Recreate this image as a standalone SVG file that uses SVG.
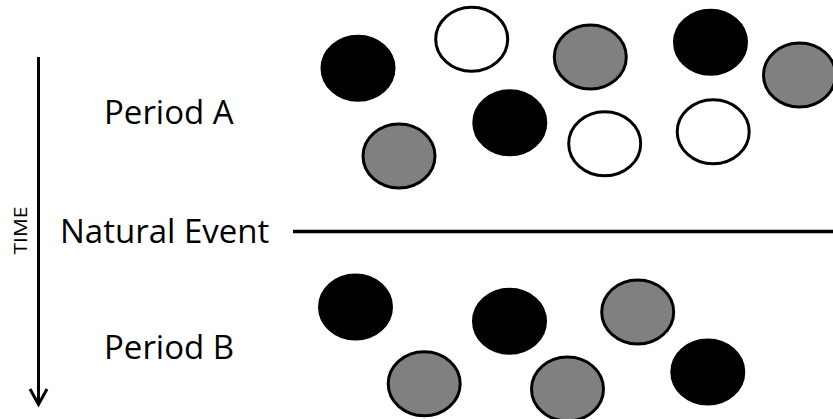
<svg xmlns="http://www.w3.org/2000/svg" width="833" height="419" viewBox="0 0 833 419">
  <style>
    .label { font-family: "Open Sans", "Liberation Sans", sans-serif; font-size: 33px; fill: #000; }
    .small { font-family: "Open Sans", "Liberation Sans", sans-serif; font-size: 18px; fill: #000; }
    .dot { stroke: #000; stroke-width: 3; }
    .black { fill: #000; }
    .gray { fill: #808080; }
    .white { fill: #fff; }
    .rule { stroke: #000; fill: none; }
  </style>
  <rect width="833" height="419" fill="#fff"/>

  <!-- time axis -->
  <g id="time-axis">
    <line class="rule" x1="38.5" y1="57" x2="38.5" y2="403" stroke-width="3"/>
    <polyline class="rule" points="30,389 38.5,404.5 47,389" stroke-width="3" stroke-linejoin="miter"/>
    <text class="small" transform="translate(27,230.5) rotate(-90)" text-anchor="middle" textLength="48" lengthAdjust="spacingAndGlyphs">TIME</text>
  </g>

  <!-- labels -->
  <g id="period-a-label"><text class="label" x="104" y="123.5">Period A</text></g>
  <g id="event-label"><text class="label" x="60" y="243">Natural Event</text></g>
  <g id="period-b-label"><text class="label" x="104" y="358.5">Period B</text></g>

  <!-- event divider -->
  <g id="connectors">
    <line class="rule" x1="293" y1="231.5" x2="833" y2="231.5" stroke-width="3.5"/>
  </g>

  <!-- period A population -->
  <g id="period-a">
    <ellipse id="a1" class="dot black" cx="358" cy="68.3" rx="36" ry="32"/>
    <ellipse id="a2" class="dot white" cx="471.7" cy="39.3" rx="36" ry="32"/>
    <ellipse id="a3" class="dot gray" cx="590.3" cy="57" rx="36" ry="32"/>
    <ellipse id="a4" class="dot black" cx="710.5" cy="42.2" rx="36" ry="32"/>
    <ellipse id="a5" class="dot gray" cx="799.5" cy="75" rx="36" ry="32"/>
    <ellipse id="a6" class="dot black" cx="509.8" cy="122.7" rx="36" ry="32"/>
    <ellipse id="a7" class="dot gray" cx="399" cy="156" rx="36" ry="32"/>
    <ellipse id="a8" class="dot white" cx="604.7" cy="143.7" rx="36" ry="32"/>
    <ellipse id="a9" class="dot white" cx="713.2" cy="131.7" rx="36" ry="32"/>
  </g>

  <!-- period B population -->
  <g id="period-b">
    <ellipse id="b1" class="dot black" cx="355.5" cy="307" rx="36" ry="32"/>
    <ellipse id="b2" class="dot black" cx="509.5" cy="321.3" rx="36" ry="32"/>
    <ellipse id="b3" class="dot gray" cx="424.2" cy="383.7" rx="36" ry="32"/>
    <ellipse id="b4" class="dot gray" cx="567.5" cy="389" rx="36" ry="32"/>
    <ellipse id="b5" class="dot gray" cx="637.7" cy="312" rx="36" ry="32"/>
    <ellipse id="b6" class="dot black" cx="707.8" cy="372" rx="36" ry="32"/>
  </g>
</svg>
